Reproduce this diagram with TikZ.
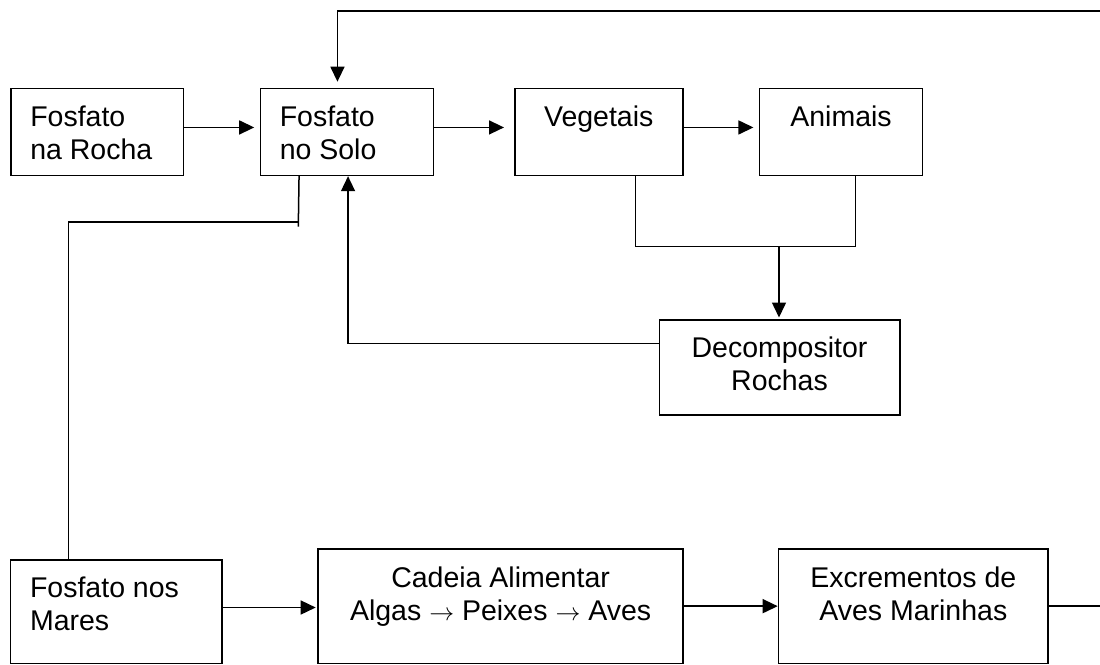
\documentclass[tikz,border=0pt]{standalone}
\usepackage{fontspec}
\setmainfont{Liberation Sans}
\usetikzlibrary{arrows.meta}
\newcommand\bxl[3]{\parbox[c][#2][t]{#1}{\vspace*{14.9pt}\raggedright\leftskip=19.5pt\strut #3}}
\newcommand\bxc[3]{\parbox[c][#2][t]{#1}{\vspace*{14.9pt}\centering\strut #3}}
\begin{document}
\begin{tikzpicture}[x=1pt,y=-1pt,
  conn/.style={line width=1.5pt},
  arr/.style={conn,-{Triangle[length=15pt,width=14pt]}},
  box/.style={draw,line width=1.5pt,inner sep=0pt,anchor=north west,
    font=\fontsize{28.5pt}{33pt}\selectfont}]
\useasboundingbox (0,0) rectangle (1100,664);
\fill[white] (0,0) rectangle (1100,664);
\clip (0,0) rectangle (1100,664);
% boxes
\node[box] (b1) at (10,87.7) {\bxl{172.7pt}{87pt}{Fosfato\\na Rocha}};
\node[box] (b2) at (259.5,87.7) {\bxl{173pt}{87pt}{Fosfato\\no Solo}};
\node[box] (b3) at (514,87.7) {\bxc{168pt}{87pt}{Vegetais}};
\node[box] (b4) at (758.7,87.7) {\bxc{163.1pt}{87pt}{Animais}};
\node[box] (de) at (658.5,319) {\bxc{240.5pt}{95.3pt}{Decompositor\\Rochas}};
\node[box] (ma) at (9.8,559) {\bxl{211.2pt}{103.5pt}{Fosfato nos\\Mares}};
\node[box] (ca) at (317.4,548.3) {\bxc{364.9pt}{114.2pt}{Cadeia Alimentar\\Algas $\rightarrow$ Peixes $\rightarrow$ Aves}};
\node[box] (ex) at (777.7,548.3) {\bxc{269.7pt}{114.2pt}{Excrementos de\\Aves Marinhas}};
% coordinates
\coordinate (rt) at (1115,11);
\coordinate (k1) at (298.3,222);
\coordinate (k1o) at (298.3,226.7);
\coordinate (k2) at (68.3,222);
\coordinate (j) at (779,246.7);
% connectors
\draw[arr,shorten >=5.3pt] ([yshift=4.5pt]b1.east) -- ([yshift=4.5pt]b2.west);
\draw[arr,shorten >=10pt] ([yshift=4.5pt]b2.east) -- ([yshift=4.5pt]b3.west);
\draw[arr,shorten >=5.3pt] ([yshift=4.5pt]b3.east) -- ([yshift=4.5pt]b4.west);
\draw[arr,shorten >=6pt] (ex.east) -| (rt) -| ([xshift=-9.3pt]b2.north);
\draw[conn] ([xshift=-47.7pt]b2.south) -- (k1o);
\draw[conn] (k1) -- (k2) -- (k2 |- ma.north);
\draw[arr] ([yshift=24pt]de.west) -| ([xshift=1.3pt]b2.south);
\draw[conn] ([xshift=36.5pt]b3.south) |- (j) -| ([xshift=14.25pt]b4.south);
\draw[arr,shorten >=1.5pt] (j) -- (j |- de.north);
\draw[arr,shorten >=1.7pt] ([yshift=4pt]ma.east) -- ([yshift=4pt]ma.east -| ca.west);
\draw[arr] (ca.east) -- (ex.west);
\end{tikzpicture}
\end{document}
